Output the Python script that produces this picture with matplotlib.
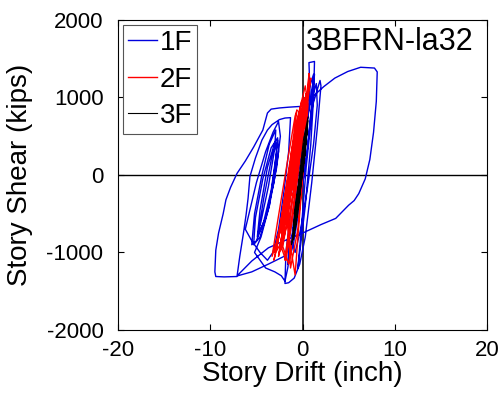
import matplotlib
matplotlib.use("Agg")
import matplotlib.pyplot as plt

plt.rcParams['font.family'] = ['Liberation Sans', 'DejaVu Sans']
plt.rcParams['axes.unicode_minus'] = False

# ---- data (story drift in inch, story shear in kips) ----
f1_drift = [0.0, 0.4, 0.8, 0.7, 1.3, 1.2, 0.9, 0.3, -0.2, -0.5, -0.2, 0.4,
            1.1, 1.9, 2.0, 1.6, 1.0, 0.3, -0.3, -0.9, -1.5, -1.9, -1.8, -1.2,
            -0.5, 0.2, 0.8, 1.2, 1.0, 0.5, -0.2, -1.0, -2.0, -3.7, -5.5, -7.0,
            -7.0, -5.5, -3.7, -1.8, 0.0, 2.0, 3.6, 5.0, 5.6, 6.1, 6.8, 7.3, 7.7, 8.0, 8.1,
            7.8, 6.3, 4.9, 3.5, 2.3, 1.0, -0.2, -1.5, -2.5, -3.4, -3.8, -4.3, -5.3, -6.2,
            -7.1, -7.8, -8.3, -8.6, -9.1, -9.4, -9.5, -9.4,
            -8.5, -7.1, -6.8, -6.4, -6.1, -5.9, -5.7, -5.1, -4.4, -3.8, -3.3, -2.5, -1.9, -1.3,
            -1.5, -2.0, -2.6, -3.2, -3.8, -4.6, -5.5, -6.2, -5.8, -5.0, -4.0, -3.2, -2.6, -2.4,
            -2.8, -3.6, -4.6, -5.3, -5.1, -4.3, -3.4, -2.7, -2.6, -3.1, -4.0, -4.9, -4.6, -3.8, -3.0, -2.8,
            -3.4, -4.2, -5.0, -5.5, -5.2, -4.4, -3.6, -2.9, -3.0, -3.7, -4.5, -4.8, -4.2, -3.3, -2.7, -3.0,
            -3.6, -4.5, -5.2, -4.0, -3.0, -2.3, -1.9, -1.6, -1.0, -0.2, 0.5, 1.0, 1.3, 1.1,
            0.5, -0.3, -1.0, -1.6, -1.4, -0.6, 0.2, 0.8, 1.5, 1.6, 1.2, 0.5, -0.2, -0.8, -1.2, -0.6]
f1_shear = [0, 500, 1100, 1450, 1465, 1000, 400, -400, -900, -1200, -800, 100,
            900, 1220, 1150, 600, -100, -800, -1150, -1330, -1390, -1400, -1000, -400,
            200, 800, 1150, 1300, 900, 300, -300, -800, -1050, -1150, -1250, -1300,
            -1290, -1110, -940, -840, -750, -640, -560, -390, -330, -240, -50, 200, 550, 950, 1330,
            1380, 1390, 1335, 1250, 1140, 1000, 885, 875, 865, 850, 800, 580, 360, 180,
            20, -160, -320, -500, -750, -970, -1250, -1310,
            -1315, -1310, -1050, -750, -500, -300, -20, 220, 450, 580, 650, 715, 735, 740,
            300, -200, -700, -1000, -1100, -1000, -850, -700, -500, -100, 300, 550, 690, 500,
            100, -400, -800, -900, -550, -50, 350, 480, 300, -100, -550, -800, -450, 100, 420, 300,
            -200, -600, -850, -900, -500, 0, 400, 580, 350, -150, -600, -750, -300, 250, 450, 100,
            -400, -800, -1000, -1200, -1250, -1300, -1370, -1200, -700, 0, 700, 1100, 1300, 1000,
            300, -400, -900, -1150, -800, -100, 500, 900, 1180, 900, 400, -200, -700, -1000, -850, -200]

f2_drift = [0.0, 0.4, 0.7, 0.5, -0.3, -1.0, -1.6, -1.9, -1.3, -0.4, 0.2, 0.4, -0.2, -1.2, -2.2,
            -2.6, -2.0, -1.0, -0.3, 0.0,
            -0.6, -1.8, -2.9, -3.3, -2.7, -1.6, -0.8, -0.6, -1.2, -1.8, -1.2, -0.8, -0.5, 0.1, 0.6,
            0.3, -0.6, -1.5, -2.4, -2.8,
            -2.1, -1.2, -0.3, 0.2, -0.4, -1.3, -2.1, -2.5, -1.8, -0.9, -0.2, -0.7, -1.6, -1.3, -0.5,
            0.3, -0.3, -1.0,
            -0.4, 0.5, 0.9, 0.4, -0.5, -1.4, -2.0, -2.9, -3.1, -2.4, -1.5, -0.8, -0.3, -0.8, -1.7, -2.3,
            -1.6, -0.9, -0.4, -1.0, -1.9, -2.7, -3.0, -2.2, -1.4, -0.6, -0.1, -0.6, -1.5, -2.4, -1.8, -1.0,
            -0.3, 0.3, -0.1, -0.9, -1.7, -2.2, -1.5, -0.7, 0.0, -0.5, -1.3, -2.0]
f2_shear = [0, 700, 1310, 1000, 300, -400, -900, -1100, -500, 300, 900, 1050, 600, -200, -800,
            -1050, -600, 200, 800, 880,
            400, -400, -900, -1050, -600, 200, 760, 840, 300, -500, -1000, -1290, -800, 100, 900,
            1150, 700, -100, -700, -950,
            -400, 300, 850, 1000, 500, -300, -900, -1000, -400, 300, 700, 200, -500, -1200, -700,
            500, 300, -200,
            400, 1000, 1250, 800, 100, -500, -800, -1000, -1100, -700, 0, 500, 700, 300, -300, -750,
            -300, 300, 650, 200, -400, -850, -1000, -500, 100, 600, 800, 400, -350, -900, -1100, -500,
            200, 750, 950, 400, -400, -900, -1150, -500, 300, 500, -100, -600]

f3_drift = [0.0, 0.3, 0.6, 0.2, -0.4, -1.0, -0.7, -0.1, 0.4, 0.5, 0.0, -0.6, -0.9, -0.5, 0.1,
            0.3, -0.2, -0.7, -0.4, 0.2, 0.4, -0.1, -0.5, -0.8, -0.3, 0.2,
            -0.4, -1.1, -0.8, -0.2, 0.3, 0.6, 0.1, -0.5, -1.0, -0.6, 0.0, 0.5, 0.2, -0.4, -0.9, -0.3,
            0.4, 0.1, -0.6, -1.2, -0.7, -0.1, 0.3, -0.2, -0.8, -0.4, 0.2, 0.5]
f3_shear = [0, 300, 700, 400, -300, -840, -600, 0, 500, 620, 200, -400, -700, -300, 300,
            500, 0, -550, -350, 200, 450, 100, -300, -650, -200, 300,
            -100, -800, -700, -100, 400, 750, 450, -200, -650, -450, 150, 550, 300, -250, -500, 0,
            450, 200, -500, -900, -600, 0, 300, -100, -700, -400, 250, 600]

x_ticks = [-20, -10, 0, 10, 20]
y_ticks = [-2000, -1000, 0, 1000, 2000]
labels = ['1F', '2F', '3F']

fig = plt.figure(figsize=(5.03, 3.96), dpi=100)
ax = fig.add_axes([0.2346, 0.1667, 0.7336, 0.7828])

ax.axhline(0, color='black', lw=1.0, zorder=1)
ax.axvline(0, color='#333333', lw=1.4, zorder=1)

ax.plot(f1_drift, f1_shear, color='#0000dd', lw=1.0, label=labels[0], zorder=2)
ax.plot(f2_drift, f2_shear, color='#ff0000', lw=1.0, label=labels[1], zorder=3)
ax.plot(f3_drift, f3_shear, color='black', lw=0.8, label=labels[2], zorder=4)

ax.set_xlim(-20, 20)
ax.set_ylim(-2000, 2000)
ax.set_xticks(x_ticks)
ax.set_yticks(y_ticks)
ax.tick_params(direction='in', top=True, right=True, labelsize=16, length=4, width=0.8)
ax.tick_params(axis='x', pad=7)
ax.tick_params(axis='y', pad=10.5)
for s in ax.spines.values():
    s.set_linewidth(0.8)

ax.set_xlabel('Story Drift (inch)', fontsize=20, labelpad=0)
ax.set_ylabel('Story Shear (kips)', fontsize=20, labelpad=10)

ax.text(0.33, 1612, '3BFRN-la32', fontsize=22, ha='left', va='baseline')

leg = ax.legend(loc='upper left', fontsize=20, handlelength=1.05, handletextpad=0.1,
                borderaxespad=0.18, borderpad=0.18, labelspacing=0.38, fancybox=False,
                framealpha=1, edgecolor='#555555')
leg.get_frame().set_linewidth(0.8)

fig.savefig('out.png', dpi=100)
